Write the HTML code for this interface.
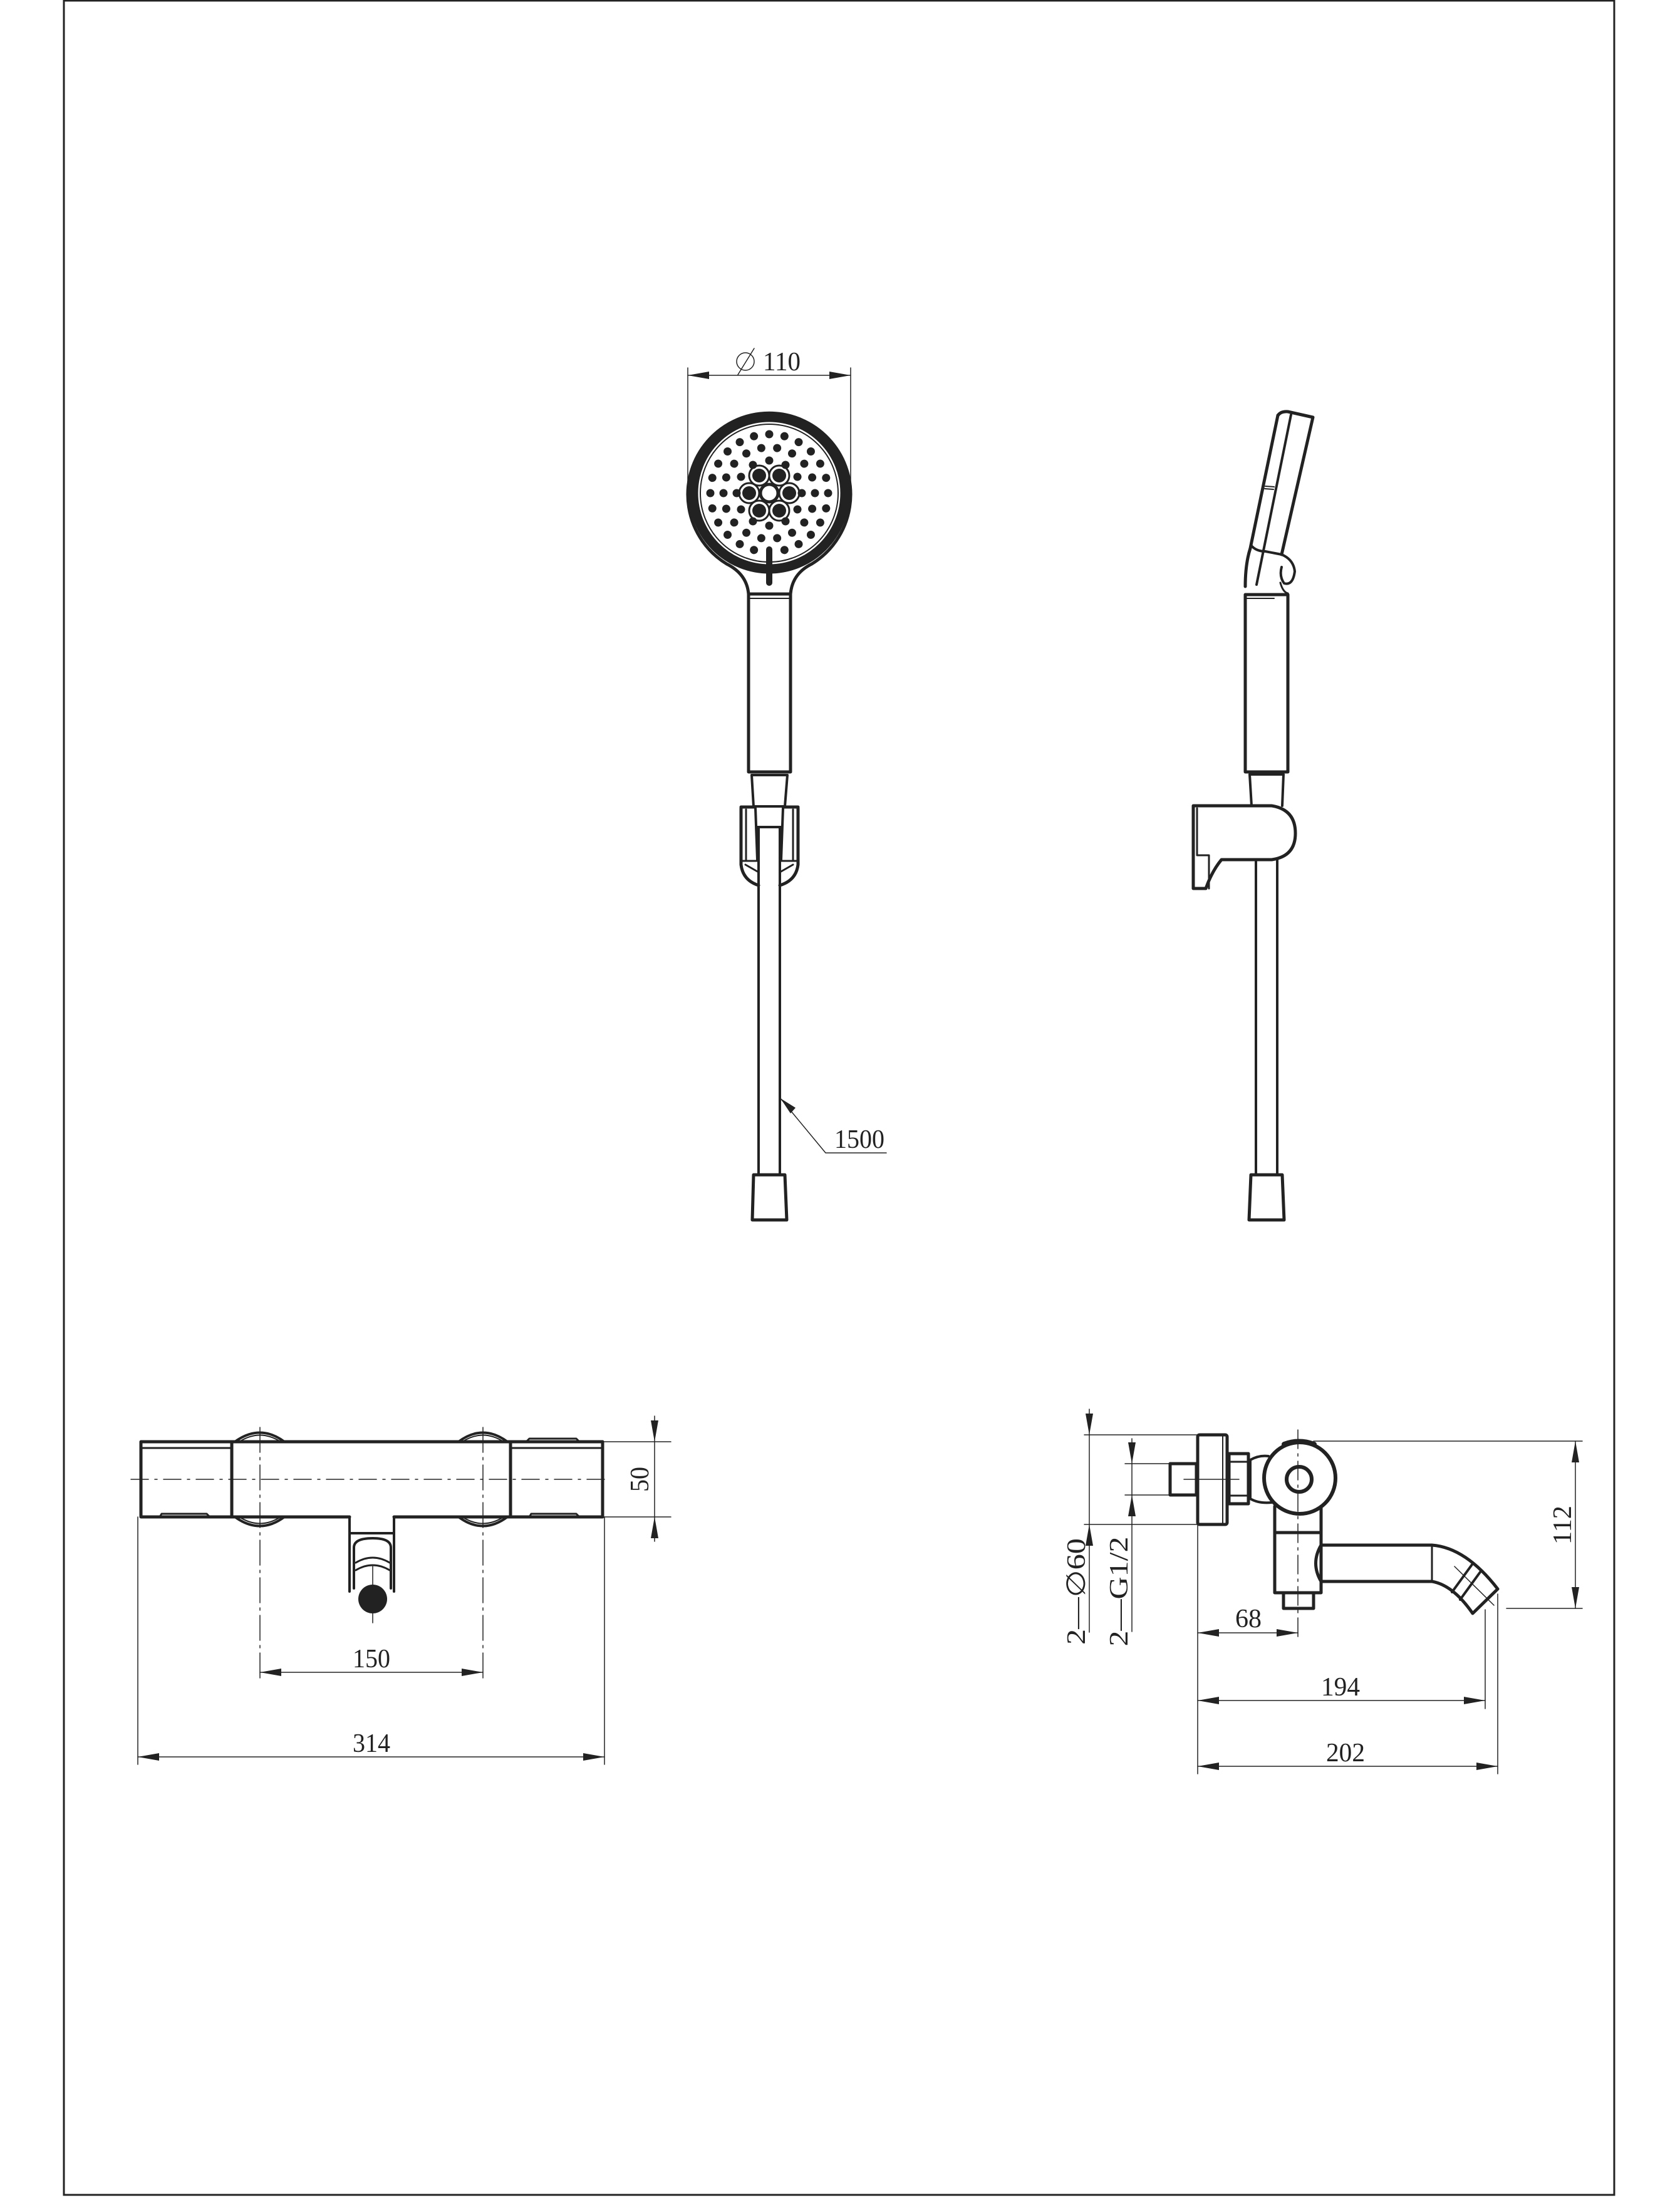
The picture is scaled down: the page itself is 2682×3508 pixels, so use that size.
<!DOCTYPE html>
<html><head><meta charset="utf-8"><style>
html,body{margin:0;padding:0;background:#fff}
svg{display:block}
text{font-family:"Liberation Serif",serif;fill:#222}
</style></head><body>
<svg width="2682" height="3508" viewBox="0 0 2682 3508" xmlns="http://www.w3.org/2000/svg">
<defs>
<circle id="d1" cx="1228" cy="735" r="6.5" fill="#222"/>
<circle id="d2" cx="1228" cy="714" r="6.5" fill="#222"/>
<circle id="d3" cx="1228" cy="693" r="6.5" fill="#222"/>
</defs>
<rect x="102" y="1" width="2475" height="3502" fill="none" stroke="#222" stroke-width="3"/>

<g fill="none" stroke="#222" stroke-linecap="round" stroke-linejoin="round">
<!-- ===== Front hand shower ===== -->
<line x1="1098" y1="587" x2="1098" y2="785" stroke-width="1.5"/>
<line x1="1358" y1="587" x2="1358" y2="785" stroke-width="1.5"/>
<line x1="1098" y1="599" x2="1358" y2="599" stroke-width="1.5"/>
<line x1="1178" y1="598" x2="1204" y2="556" stroke-width="1.5"/>
<circle cx="1190" cy="577" r="14" stroke-width="1.5"/>
<path d="M1195,948 C1193,925 1180,910 1160,900 A130,130 0 1 1 1296,900 C1276,910 1264,925 1262,948" stroke-width="5"/>
<circle cx="1228" cy="787" r="121" stroke-width="15"/>
<circle cx="1228" cy="787" r="110" stroke-width="2"/>
<line x1="1228" y1="877" x2="1228" y2="930" stroke-width="10"/>
<circle cx="1228" cy="787" r="14" stroke-width="5"/>
<g stroke-width="3">
<circle cx="1260" cy="787" r="16"/><circle cx="1196" cy="787" r="16"/>
<circle cx="1244" cy="759" r="16"/><circle cx="1212" cy="759" r="16"/>
<circle cx="1244" cy="815" r="16"/><circle cx="1212" cy="815" r="16"/>
</g>
<g fill="#222" stroke="none">
<circle cx="1260" cy="787" r="11"/><circle cx="1196" cy="787" r="11"/>
<circle cx="1244" cy="759" r="11"/><circle cx="1212" cy="759" r="11"/>
<circle cx="1244" cy="815" r="11"/><circle cx="1212" cy="815" r="11"/>
</g>
<rect x="1195" y="948" width="67" height="284" stroke-width="5"/>
<line x1="1195" y1="955" x2="1262" y2="955" stroke-width="2"/>
<path d="M1200,1237 L1257,1237 L1253,1287 L1203,1287 Z" stroke-width="4"/>
<path d="M1183,1290 L1183,1380 Q1186,1405 1211,1413" stroke-width="5"/>
<path d="M1274,1290 L1274,1380 Q1271,1405 1245,1413" stroke-width="5"/>
<path d="M1183,1288 L1205,1288 M1252,1288 L1274,1288" stroke-width="5"/>
<path d="M1191,1292 L1191,1372 M1266,1292 L1266,1372" stroke-width="3"/>
<path d="M1206,1290 L1209,1372 M1250,1290 L1247,1372" stroke-width="4"/>
<path d="M1183,1374 L1211,1374 M1245,1374 L1274,1374" stroke-width="3"/>
<path d="M1190,1380 L1211,1392 M1266,1380 L1245,1392" stroke-width="3"/>
<line x1="1211" y1="1320" x2="1211" y2="1875" stroke-width="4"/>
<line x1="1245" y1="1320" x2="1245" y2="1875" stroke-width="4"/>
<line x1="1209" y1="1320" x2="1247" y2="1320" stroke-width="4"/>
<path d="M1203,1875 L1253,1875 L1256,1947 L1201,1947 Z" stroke-width="5"/>
<polyline points="1246,1753 1318,1840 1415,1840" stroke-width="1.5"/>

<!-- ===== Side hand shower ===== -->
<path d="M2040,663 Q2045,656 2056,657 L2096,666 L2046,885" stroke-width="5"/>
<path d="M2040,663 L1996,875 Q1988,900 1988,936" stroke-width="5"/>
<path d="M2061,662 L2006,933" stroke-width="4"/>
<path d="M2020,776 L2034,777 M2019,780 L2033,781" stroke-width="2"/>
<path d="M1997,870 Q2005,880 2020,880 L2046,885" stroke-width="4"/>
<path d="M2046,885 Q2065,893 2067,912 Q2064,935 2050,931 Q2042,920 2046,905" stroke-width="4"/>
<path d="M2044,930 Q2048,945 2056,947" stroke-width="3"/>
<rect x="1988" y="949" width="68" height="283" stroke-width="5"/>
<line x1="1988" y1="955" x2="2034" y2="955" stroke-width="2"/>
<path d="M1995,1236 L2049,1236 L2047,1286 M1995,1236 L1998,1286" stroke-width="4"/>
<path d="M1905,1286 L2030,1286 Q2068,1292 2068,1330 Q2068,1367 2030,1372 L1950,1372 Q1935,1390 1925,1418 L1905,1418 Z" stroke-width="5"/>
<path d="M1911,1290 L1911,1365 L1930,1365 L1930,1418" stroke-width="3"/>
<line x1="2005" y1="1372" x2="2005" y2="1875" stroke-width="4"/>
<line x1="2039" y1="1372" x2="2039" y2="1875" stroke-width="4"/>
<path d="M1997,1875 L2047,1875 L2050,1947 L1994,1947 Z" stroke-width="5"/>

<!-- ===== Front thermostat ===== -->
<path d="M225,2301 L370,2301 L370,2421 L225,2421 Z" stroke-width="5"/>
<line x1="225" y1="2311" x2="370" y2="2311" stroke-width="3"/>
<path d="M255,2421 L258,2416 L330,2416 L335,2421" stroke-width="3"/>
<path d="M815,2301 L962,2301 L962,2421 L815,2421 Z" stroke-width="5"/>
<line x1="815" y1="2311" x2="962" y2="2311" stroke-width="3"/>
<path d="M840,2301 L845,2296 L920,2296 L925,2301 M845,2421 L848,2416 L920,2416 L925,2421" stroke-width="3"/>
<path d="M370,2301 L815,2301 M370,2421 L558,2421 M629,2421 L815,2421" stroke-width="5"/>
<path d="M375,2301 Q415,2272 454,2301 M375,2421 Q415,2450 454,2421" stroke-width="4"/>
<path d="M382,2301 Q415,2280 448,2301 M382,2421 Q415,2442 448,2421" stroke-width="2"/>
<path d="M732,2301 Q771,2272 810,2301 M732,2421 Q771,2450 810,2421" stroke-width="4"/>
<path d="M738,2301 Q771,2280 804,2301 M738,2421 Q771,2442 804,2421" stroke-width="2"/>
<path d="M558,2421 L558,2540 M629,2421 L629,2540 M558,2447 L629,2447" stroke-width="4"/>
<path d="M565,2470 Q565,2455 595,2455 Q624,2455 624,2470 L624,2535 M565,2470 L565,2535" stroke-width="4"/>
<path d="M568,2494 Q595,2478 622,2494 M568,2506 Q595,2490 622,2506" stroke-width="3"/>
<circle cx="595" cy="2552" r="23" fill="#222" stroke="none"/>
<line x1="209" y1="2361" x2="973" y2="2361" stroke-width="1.5" stroke-dasharray="28,10,4,10"/>
<line x1="415" y1="2278" x2="415" y2="2681" stroke-width="1.5" stroke-dasharray="40,8,4,8"/>
<line x1="771" y1="2278" x2="771" y2="2681" stroke-width="1.5" stroke-dasharray="40,8,4,8"/>
<line x1="595" y1="2500" x2="595" y2="2590" stroke-width="1.5"/>
<line x1="415" y1="2669" x2="771" y2="2669" stroke-width="1.5"/>
<line x1="220" y1="2421" x2="220" y2="2816" stroke-width="1.5"/>
<line x1="965" y1="2421" x2="965" y2="2816" stroke-width="1.5"/>
<line x1="220" y1="2804" x2="965" y2="2804" stroke-width="1.5"/>
<line x1="962" y1="2301" x2="1071" y2="2301" stroke-width="1.5"/>
<line x1="962" y1="2421" x2="1071" y2="2421" stroke-width="1.5"/>
<line x1="1045" y1="2260" x2="1045" y2="2460" stroke-width="1.5"/>

<!-- ===== Side bath mixer ===== -->
<rect x="1912" y="2290" width="47" height="143" rx="3" stroke-width="5"/>
<line x1="1952" y1="2292" x2="1952" y2="2431" stroke-width="2"/>
<rect x="1868" y="2336" width="42" height="50" stroke-width="5"/>
<rect x="1962" y="2320" width="31" height="80" stroke-width="5"/>
<path d="M1962,2333 L1993,2333 M1962,2387 L1993,2387" stroke-width="3"/>
<path d="M1996,2330 Q2010,2322 2025,2324 M1996,2330 L1996,2392 Q2010,2400 2030,2398" stroke-width="4"/>
<circle cx="2075" cy="2359" r="57" stroke-width="6"/>
<path d="M2050,2305 Q2073,2296 2098,2305" stroke-width="8"/>
<circle cx="2074" cy="2361" r="20" stroke-width="6"/>
<path d="M2035,2404 L2035,2542 L2109,2542 L2109,2404" stroke-width="5"/>
<line x1="2035" y1="2446" x2="2109" y2="2446" stroke-width="5"/>
<rect x="2049" y="2542" width="48" height="25" stroke-width="5"/>
<path d="M2109,2466 L2286,2466 Q2340,2470 2391,2536 L2351,2575 Q2320,2530 2286,2524 L2109,2524" stroke-width="5"/>
<path d="M2109,2466 Q2092,2495 2109,2524" stroke-width="5"/>
<path d="M2286,2466 L2286,2524" stroke-width="3"/>
<path d="M2350,2497 L2318,2541 M2363,2509 L2331,2553" stroke-width="4"/>
<line x1="2072" y1="2282" x2="2072" y2="2618" stroke-width="1.5" stroke-dasharray="30,8,4,8"/>
<line x1="1890" y1="2361" x2="1978" y2="2361" stroke-width="1.5"/>
<line x1="2322" y1="2500" x2="2385" y2="2562" stroke-width="1.5"/>
<line x1="2097" y1="2300" x2="2526" y2="2300" stroke-width="1.5"/>
<line x1="2405" y1="2567" x2="2526" y2="2567" stroke-width="1.5"/>
<line x1="2515" y1="2300" x2="2515" y2="2567" stroke-width="1.5"/>
<line x1="1731" y1="2290" x2="1912" y2="2290" stroke-width="1.5"/>
<line x1="1731" y1="2433" x2="1912" y2="2433" stroke-width="1.5"/>
<line x1="1739" y1="2249" x2="1739" y2="2605" stroke-width="1.5"/>
<line x1="1796" y1="2336" x2="1868" y2="2336" stroke-width="1.5"/>
<line x1="1796" y1="2386" x2="1868" y2="2386" stroke-width="1.5"/>
<line x1="1807" y1="2296" x2="1807" y2="2604" stroke-width="1.5"/>
<line x1="1912" y1="2433" x2="1912" y2="2831" stroke-width="1.5"/>
<line x1="2371" y1="2569" x2="2371" y2="2727" stroke-width="1.5"/>
<line x1="2391" y1="2544" x2="2391" y2="2831" stroke-width="1.5"/>
<line x1="1912" y1="2606" x2="2072" y2="2606" stroke-width="1.5"/>
<line x1="1912" y1="2714" x2="2371" y2="2714" stroke-width="1.5"/>
<line x1="1912" y1="2819" x2="2391" y2="2819" stroke-width="1.5"/>
</g>

<g>
<use href="#d1" transform="rotate(0 1228 787)"/><use href="#d1" transform="rotate(30 1228 787)"/><use href="#d1" transform="rotate(60 1228 787)"/><use href="#d1" transform="rotate(90 1228 787)"/><use href="#d1" transform="rotate(120 1228 787)"/><use href="#d1" transform="rotate(150 1228 787)"/><use href="#d1" transform="rotate(180 1228 787)"/><use href="#d1" transform="rotate(210 1228 787)"/><use href="#d1" transform="rotate(240 1228 787)"/><use href="#d1" transform="rotate(270 1228 787)"/><use href="#d1" transform="rotate(300 1228 787)"/><use href="#d1" transform="rotate(330 1228 787)"/>
<use href="#d2" transform="rotate(10 1228 787)"/><use href="#d2" transform="rotate(30 1228 787)"/><use href="#d2" transform="rotate(50 1228 787)"/><use href="#d2" transform="rotate(70 1228 787)"/><use href="#d2" transform="rotate(90 1228 787)"/><use href="#d2" transform="rotate(110 1228 787)"/><use href="#d2" transform="rotate(130 1228 787)"/><use href="#d2" transform="rotate(150 1228 787)"/><use href="#d2" transform="rotate(170 1228 787)"/><use href="#d2" transform="rotate(190 1228 787)"/><use href="#d2" transform="rotate(210 1228 787)"/><use href="#d2" transform="rotate(230 1228 787)"/><use href="#d2" transform="rotate(250 1228 787)"/><use href="#d2" transform="rotate(270 1228 787)"/><use href="#d2" transform="rotate(290 1228 787)"/><use href="#d2" transform="rotate(310 1228 787)"/><use href="#d2" transform="rotate(330 1228 787)"/><use href="#d2" transform="rotate(350 1228 787)"/>
<use href="#d3" transform="rotate(0 1228 787)"/><use href="#d3" transform="rotate(15 1228 787)"/><use href="#d3" transform="rotate(30 1228 787)"/><use href="#d3" transform="rotate(45 1228 787)"/><use href="#d3" transform="rotate(60 1228 787)"/><use href="#d3" transform="rotate(75 1228 787)"/><use href="#d3" transform="rotate(90 1228 787)"/><use href="#d3" transform="rotate(105 1228 787)"/><use href="#d3" transform="rotate(120 1228 787)"/><use href="#d3" transform="rotate(135 1228 787)"/><use href="#d3" transform="rotate(150 1228 787)"/><use href="#d3" transform="rotate(165 1228 787)"/><use href="#d3" transform="rotate(195 1228 787)"/><use href="#d3" transform="rotate(210 1228 787)"/><use href="#d3" transform="rotate(225 1228 787)"/><use href="#d3" transform="rotate(240 1228 787)"/><use href="#d3" transform="rotate(255 1228 787)"/><use href="#d3" transform="rotate(270 1228 787)"/><use href="#d3" transform="rotate(285 1228 787)"/><use href="#d3" transform="rotate(300 1228 787)"/><use href="#d3" transform="rotate(315 1228 787)"/><use href="#d3" transform="rotate(330 1228 787)"/><use href="#d3" transform="rotate(345 1228 787)"/>
</g>

<g fill="#222" stroke="none">
<polygon points="1098,599 1132,593 1132,605"/><polygon points="1358,599 1324,593 1324,605"/>
<polygon points="1246,1753 1270,1768 1262,1777"/>
<polygon points="415,2669 449,2663 449,2675"/><polygon points="771,2669 737,2663 737,2675"/>
<polygon points="220,2804 254,2798 254,2810"/><polygon points="965,2804 931,2798 931,2810"/>
<polygon points="1045,2301 1039,2267 1051,2267"/><polygon points="1045,2421 1039,2455 1051,2455"/>
<polygon points="2515,2300 2509,2334 2521,2334"/><polygon points="2515,2567 2509,2533 2521,2533"/>
<polygon points="1739,2290 1733,2256 1745,2256"/><polygon points="1739,2433 1733,2467 1745,2467"/>
<polygon points="1807,2336 1801,2302 1813,2302"/><polygon points="1807,2386 1801,2420 1813,2420"/>
<polygon points="1912,2606 1946,2600 1946,2612"/><polygon points="2072,2606 2038,2600 2038,2612"/>
<polygon points="1912,2714 1946,2708 1946,2720"/><polygon points="2371,2714 2337,2708 2337,2720"/>
<polygon points="1912,2819 1946,2813 1946,2825"/><polygon points="2391,2819 2357,2813 2357,2825"/>
</g>

<g font-size="42">
<text x="1248" y="591" text-anchor="middle" textLength="60" lengthAdjust="spacingAndGlyphs">110</text>
<text x="1372" y="1832" text-anchor="middle" textLength="80" lengthAdjust="spacingAndGlyphs">1500</text>
<text x="593" y="2661" text-anchor="middle" textLength="60" lengthAdjust="spacingAndGlyphs">150</text>
<text x="593" y="2796" text-anchor="middle" textLength="60" lengthAdjust="spacingAndGlyphs">314</text>
<text transform="translate(1035 2361) rotate(-90)" text-anchor="middle" textLength="40" lengthAdjust="spacingAndGlyphs">50</text>
<text transform="translate(2508 2434) rotate(-90)" text-anchor="middle" textLength="62" lengthAdjust="spacingAndGlyphs">112</text>
<text transform="translate(1732 2540) rotate(-90)" text-anchor="middle" textLength="170" lengthAdjust="spacingAndGlyphs">2—∅60</text>
<text transform="translate(1800 2540) rotate(-90)" text-anchor="middle" textLength="175" lengthAdjust="spacingAndGlyphs">2—G1/2</text>
<text x="1993" y="2597" text-anchor="middle" textLength="42" lengthAdjust="spacingAndGlyphs">68</text>
<text x="2140" y="2706" text-anchor="middle" textLength="62" lengthAdjust="spacingAndGlyphs">194</text>
<text x="2148" y="2811" text-anchor="middle" textLength="62" lengthAdjust="spacingAndGlyphs">202</text>
</g>
</svg>
</body></html>
